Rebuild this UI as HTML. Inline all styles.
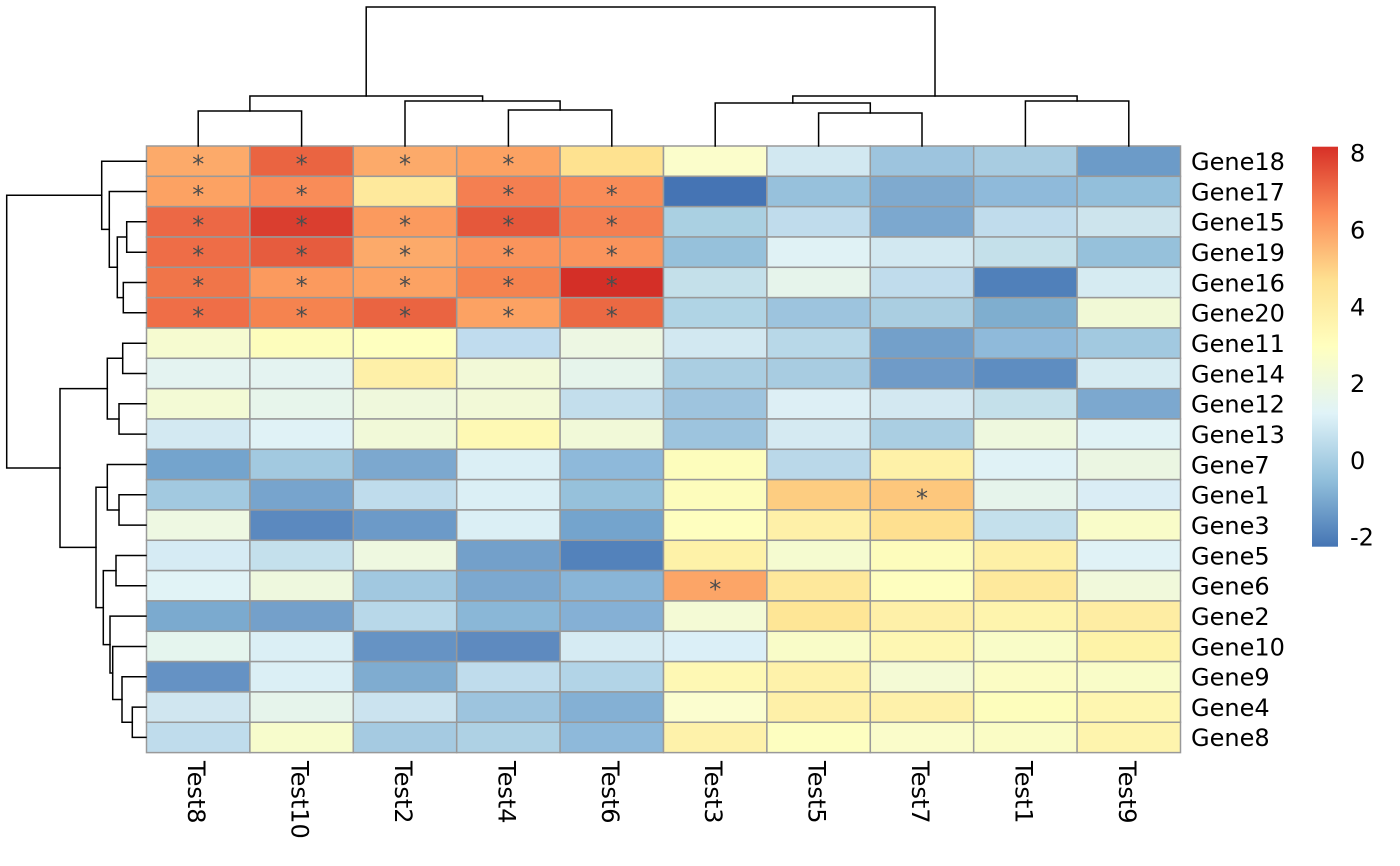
<!DOCTYPE html>
<html><head><meta charset="utf-8"><style>
html,body{margin:0;padding:0;background:#fff;}
svg{display:block;}
text{font-family:"DejaVu Sans","Liberation Sans",sans-serif;}
</style></head><body>
<svg width="1400" height="866" viewBox="0 0 1400 866" xmlns="http://www.w3.org/2000/svg">
<defs>
<linearGradient id="lg" x1="0" y1="1" x2="0" y2="0">
<stop offset="0" stop-color="#4575B4"/>
<stop offset="0.1667" stop-color="#91BFDB"/>
<stop offset="0.3333" stop-color="#E0F3F8"/>
<stop offset="0.5" stop-color="#FFFFBF"/>
<stop offset="0.6667" stop-color="#FEE090"/>
<stop offset="0.8333" stop-color="#FC8D59"/>
<stop offset="1" stop-color="#D73027"/>
</linearGradient>
</defs>
<g stroke="#999999" stroke-width="1.5">
<g transform="translate(0,146)">
<rect x="146.5" y="0" width="103.4" height="30.33" fill="#FCAA6A"/><rect x="249.9" y="0" width="103.4" height="30.33" fill="#EA6441"/><rect x="353.3" y="0" width="103.4" height="30.33" fill="#FCAA6A"/><rect x="456.7" y="0" width="103.4" height="30.33" fill="#FCA263"/><rect x="560.1" y="0" width="103.4" height="30.33" fill="#FEE290"/><rect x="663.5" y="0" width="103.4" height="30.33" fill="#FBFDCB"/><rect x="766.9" y="0" width="103.4" height="30.33" fill="#D2E8F1"/><rect x="870.3" y="0" width="103.4" height="30.33" fill="#9DC4DE"/><rect x="973.7" y="0" width="103.4" height="30.33" fill="#A8CCE1"/><rect x="1077.1" y="0" width="103.4" height="30.33" fill="#6C9BC8"/>
</g>
<g transform="translate(0,176.33)">
<rect x="146.5" y="0" width="103.4" height="30.33" fill="#FCA263"/><rect x="249.9" y="0" width="103.4" height="30.33" fill="#F98C58"/><rect x="353.3" y="0" width="103.4" height="30.33" fill="#FEE99C"/><rect x="456.7" y="0" width="103.4" height="30.33" fill="#F47F51"/><rect x="560.1" y="0" width="103.4" height="30.33" fill="#F98C58"/><rect x="663.5" y="0" width="103.4" height="30.33" fill="#4574B4"/><rect x="766.9" y="0" width="103.4" height="30.33" fill="#97C1DC"/><rect x="870.3" y="0" width="103.4" height="30.33" fill="#7FAACF"/><rect x="973.7" y="0" width="103.4" height="30.33" fill="#8FBADA"/><rect x="1077.1" y="0" width="103.4" height="30.33" fill="#93BFDB"/>
</g>
<g transform="translate(0,206.66)">
<rect x="146.5" y="0" width="103.4" height="30.33" fill="#EC6845"/><rect x="249.9" y="0" width="103.4" height="30.33" fill="#DA3E2F"/><rect x="353.3" y="0" width="103.4" height="30.33" fill="#FB9A5E"/><rect x="456.7" y="0" width="103.4" height="30.33" fill="#E5583B"/><rect x="560.1" y="0" width="103.4" height="30.33" fill="#F47F51"/><rect x="663.5" y="0" width="103.4" height="30.33" fill="#AAD0E2"/><rect x="766.9" y="0" width="103.4" height="30.33" fill="#C0DCEC"/><rect x="870.3" y="0" width="103.4" height="30.33" fill="#7CA8CF"/><rect x="973.7" y="0" width="103.4" height="30.33" fill="#C0DCEC"/><rect x="1077.1" y="0" width="103.4" height="30.33" fill="#CDE4ED"/>
</g>
<g transform="translate(0,237)">
<rect x="146.5" y="0" width="103.4" height="30.33" fill="#EE6D47"/><rect x="249.9" y="0" width="103.4" height="30.33" fill="#E65C3E"/><rect x="353.3" y="0" width="103.4" height="30.33" fill="#FCAA6A"/><rect x="456.7" y="0" width="103.4" height="30.33" fill="#FA945C"/><rect x="560.1" y="0" width="103.4" height="30.33" fill="#FA945C"/><rect x="663.5" y="0" width="103.4" height="30.33" fill="#96C1DB"/><rect x="766.9" y="0" width="103.4" height="30.33" fill="#E0F2F5"/><rect x="870.3" y="0" width="103.4" height="30.33" fill="#D2E8F1"/><rect x="973.7" y="0" width="103.4" height="30.33" fill="#C4E0EA"/><rect x="1077.1" y="0" width="103.4" height="30.33" fill="#96C1DB"/>
</g>
<g transform="translate(0,267.32)">
<rect x="146.5" y="0" width="103.4" height="30.33" fill="#F07549"/><rect x="249.9" y="0" width="103.4" height="30.33" fill="#FB9A5E"/><rect x="353.3" y="0" width="103.4" height="30.33" fill="#FCA263"/><rect x="456.7" y="0" width="103.4" height="30.33" fill="#F5834F"/><rect x="560.1" y="0" width="103.4" height="30.33" fill="#D42F27"/><rect x="663.5" y="0" width="103.4" height="30.33" fill="#C4E0EA"/><rect x="766.9" y="0" width="103.4" height="30.33" fill="#E6F4EB"/><rect x="870.3" y="0" width="103.4" height="30.33" fill="#C0DCEC"/><rect x="973.7" y="0" width="103.4" height="30.33" fill="#5080BA"/><rect x="1077.1" y="0" width="103.4" height="30.33" fill="#D6EBF2"/>
</g>
<g transform="translate(0,297.65)">
<rect x="146.5" y="0" width="103.4" height="30.33" fill="#EF6E47"/><rect x="249.9" y="0" width="103.4" height="30.33" fill="#F5834F"/><rect x="353.3" y="0" width="103.4" height="30.33" fill="#EA6441"/><rect x="456.7" y="0" width="103.4" height="30.33" fill="#FCA263"/><rect x="560.1" y="0" width="103.4" height="30.33" fill="#EB6943"/><rect x="663.5" y="0" width="103.4" height="30.33" fill="#B0D4E5"/><rect x="766.9" y="0" width="103.4" height="30.33" fill="#9DC4DE"/><rect x="870.3" y="0" width="103.4" height="30.33" fill="#AACEE1"/><rect x="973.7" y="0" width="103.4" height="30.33" fill="#7FAECF"/><rect x="1077.1" y="0" width="103.4" height="30.33" fill="#F1F9D6"/>
</g>
<g transform="translate(0,327.98)">
<rect x="146.5" y="0" width="103.4" height="30.33" fill="#F6FBD0"/><rect x="249.9" y="0" width="103.4" height="30.33" fill="#FDFDBC"/><rect x="353.3" y="0" width="103.4" height="30.33" fill="#FEFFBF"/><rect x="456.7" y="0" width="103.4" height="30.33" fill="#C0DCEE"/><rect x="560.1" y="0" width="103.4" height="30.33" fill="#EDF7E3"/><rect x="663.5" y="0" width="103.4" height="30.33" fill="#D2E8F1"/><rect x="766.9" y="0" width="103.4" height="30.33" fill="#B8D8E8"/><rect x="870.3" y="0" width="103.4" height="30.33" fill="#73A0CA"/><rect x="973.7" y="0" width="103.4" height="30.33" fill="#8FBADA"/><rect x="1077.1" y="0" width="103.4" height="30.33" fill="#A2C9E0"/>
</g>
<g transform="translate(0,358.31)">
<rect x="146.5" y="0" width="103.4" height="30.33" fill="#E4F3F1"/><rect x="249.9" y="0" width="103.4" height="30.33" fill="#E4F3F1"/><rect x="353.3" y="0" width="103.4" height="30.33" fill="#FEF0A8"/><rect x="456.7" y="0" width="103.4" height="30.33" fill="#F2F9D7"/><rect x="560.1" y="0" width="103.4" height="30.33" fill="#E6F4EB"/><rect x="663.5" y="0" width="103.4" height="30.33" fill="#AACEE2"/><rect x="766.9" y="0" width="103.4" height="30.33" fill="#A8CCE1"/><rect x="870.3" y="0" width="103.4" height="30.33" fill="#6F9BC8"/><rect x="973.7" y="0" width="103.4" height="30.33" fill="#5E8DC1"/><rect x="1077.1" y="0" width="103.4" height="30.33" fill="#D6EBF2"/>
</g>
<g transform="translate(0,388.64)">
<rect x="146.5" y="0" width="103.4" height="30.33" fill="#F3FAD5"/><rect x="249.9" y="0" width="103.4" height="30.33" fill="#E7F5EB"/><rect x="353.3" y="0" width="103.4" height="30.33" fill="#EFF8DC"/><rect x="456.7" y="0" width="103.4" height="30.33" fill="#F2F9D7"/><rect x="560.1" y="0" width="103.4" height="30.33" fill="#C3DEEC"/><rect x="663.5" y="0" width="103.4" height="30.33" fill="#9EC4DE"/><rect x="766.9" y="0" width="103.4" height="30.33" fill="#DDEFF5"/><rect x="870.3" y="0" width="103.4" height="30.33" fill="#D3E8F1"/><rect x="973.7" y="0" width="103.4" height="30.33" fill="#C4E0EA"/><rect x="1077.1" y="0" width="103.4" height="30.33" fill="#7CA8CF"/>
</g>
<g transform="translate(0,418.97)">
<rect x="146.5" y="0" width="103.4" height="30.33" fill="#D3E9F2"/><rect x="249.9" y="0" width="103.4" height="30.33" fill="#E0F2F6"/><rect x="353.3" y="0" width="103.4" height="30.33" fill="#F1F9D8"/><rect x="456.7" y="0" width="103.4" height="30.33" fill="#FEF9B4"/><rect x="560.1" y="0" width="103.4" height="30.33" fill="#F1F9D8"/><rect x="663.5" y="0" width="103.4" height="30.33" fill="#9DC4DE"/><rect x="766.9" y="0" width="103.4" height="30.33" fill="#D5EAF2"/><rect x="870.3" y="0" width="103.4" height="30.33" fill="#AACEE2"/><rect x="973.7" y="0" width="103.4" height="30.33" fill="#EEF8DE"/><rect x="1077.1" y="0" width="103.4" height="30.33" fill="#E0F2F5"/>
</g>
<g transform="translate(0,449.3)">
<rect x="146.5" y="0" width="103.4" height="30.33" fill="#74A4CD"/><rect x="249.9" y="0" width="103.4" height="30.33" fill="#A2C9E0"/><rect x="353.3" y="0" width="103.4" height="30.33" fill="#7CA8CF"/><rect x="456.7" y="0" width="103.4" height="30.33" fill="#DBEFF5"/><rect x="560.1" y="0" width="103.4" height="30.33" fill="#8EB9DA"/><rect x="663.5" y="0" width="103.4" height="30.33" fill="#FDFDBC"/><rect x="766.9" y="0" width="103.4" height="30.33" fill="#BAD8E9"/><rect x="870.3" y="0" width="103.4" height="30.33" fill="#FEF1A8"/><rect x="973.7" y="0" width="103.4" height="30.33" fill="#E0F2F6"/><rect x="1077.1" y="0" width="103.4" height="30.33" fill="#EBF6E2"/>
</g>
<g transform="translate(0,479.63)">
<rect x="146.5" y="0" width="103.4" height="30.33" fill="#A2C9E0"/><rect x="249.9" y="0" width="103.4" height="30.33" fill="#77A4CD"/><rect x="353.3" y="0" width="103.4" height="30.33" fill="#BFDCEC"/><rect x="456.7" y="0" width="103.4" height="30.33" fill="#DBEFF5"/><rect x="560.1" y="0" width="103.4" height="30.33" fill="#96C1DB"/><rect x="663.5" y="0" width="103.4" height="30.33" fill="#FDFCBC"/><rect x="766.9" y="0" width="103.4" height="30.33" fill="#FDCD81"/><rect x="870.3" y="0" width="103.4" height="30.33" fill="#FDC77C"/><rect x="973.7" y="0" width="103.4" height="30.33" fill="#E6F4EB"/><rect x="1077.1" y="0" width="103.4" height="30.33" fill="#DAEDF5"/>
</g>
<g transform="translate(0,509.96)">
<rect x="146.5" y="0" width="103.4" height="30.33" fill="#EEF8E2"/><rect x="249.9" y="0" width="103.4" height="30.33" fill="#5B89BF"/><rect x="353.3" y="0" width="103.4" height="30.33" fill="#6C9AC8"/><rect x="456.7" y="0" width="103.4" height="30.33" fill="#DBEFF5"/><rect x="560.1" y="0" width="103.4" height="30.33" fill="#74A4CD"/><rect x="663.5" y="0" width="103.4" height="30.33" fill="#FEFEBF"/><rect x="766.9" y="0" width="103.4" height="30.33" fill="#FEF0A8"/><rect x="870.3" y="0" width="103.4" height="30.33" fill="#FEE090"/><rect x="973.7" y="0" width="103.4" height="30.33" fill="#C4E0EC"/><rect x="1077.1" y="0" width="103.4" height="30.33" fill="#F9FCC9"/>
</g>
<g transform="translate(0,540.29)">
<rect x="146.5" y="0" width="103.4" height="30.33" fill="#D6EBF4"/><rect x="249.9" y="0" width="103.4" height="30.33" fill="#C4E0EC"/><rect x="353.3" y="0" width="103.4" height="30.33" fill="#EEF8E0"/><rect x="456.7" y="0" width="103.4" height="30.33" fill="#73A0CA"/><rect x="560.1" y="0" width="103.4" height="30.33" fill="#5382BB"/><rect x="663.5" y="0" width="103.4" height="30.33" fill="#FEF2A8"/><rect x="766.9" y="0" width="103.4" height="30.33" fill="#F5FBD0"/><rect x="870.3" y="0" width="103.4" height="30.33" fill="#FDFCBC"/><rect x="973.7" y="0" width="103.4" height="30.33" fill="#FEF0A6"/><rect x="1077.1" y="0" width="103.4" height="30.33" fill="#E0F2F6"/>
</g>
<g transform="translate(0,570.62)">
<rect x="146.5" y="0" width="103.4" height="30.33" fill="#E1F3F6"/><rect x="249.9" y="0" width="103.4" height="30.33" fill="#EEF8DE"/><rect x="353.3" y="0" width="103.4" height="30.33" fill="#A1C8E0"/><rect x="456.7" y="0" width="103.4" height="30.33" fill="#7CA8CF"/><rect x="560.1" y="0" width="103.4" height="30.33" fill="#89B5D7"/><rect x="663.5" y="0" width="103.4" height="30.33" fill="#FCA567"/><rect x="766.9" y="0" width="103.4" height="30.33" fill="#FEE89B"/><rect x="870.3" y="0" width="103.4" height="30.33" fill="#FEFEBF"/><rect x="973.7" y="0" width="103.4" height="30.33" fill="#FEE99C"/><rect x="1077.1" y="0" width="103.4" height="30.33" fill="#F1F9DB"/>
</g>
<g transform="translate(0,600.95)">
<rect x="146.5" y="0" width="103.4" height="30.33" fill="#7BAACF"/><rect x="249.9" y="0" width="103.4" height="30.33" fill="#74A0CA"/><rect x="353.3" y="0" width="103.4" height="30.33" fill="#B8D8E9"/><rect x="456.7" y="0" width="103.4" height="30.33" fill="#8AB7D7"/><rect x="560.1" y="0" width="103.4" height="30.33" fill="#85B0D5"/><rect x="663.5" y="0" width="103.4" height="30.33" fill="#F4FAD5"/><rect x="766.9" y="0" width="103.4" height="30.33" fill="#FEE696"/><rect x="870.3" y="0" width="103.4" height="30.33" fill="#FEF0A8"/><rect x="973.7" y="0" width="103.4" height="30.33" fill="#FEF4AD"/><rect x="1077.1" y="0" width="103.4" height="30.33" fill="#FEEDA3"/>
</g>
<g transform="translate(0,631.28)">
<rect x="146.5" y="0" width="103.4" height="30.33" fill="#E5F5EE"/><rect x="249.9" y="0" width="103.4" height="30.33" fill="#DBEFF5"/><rect x="353.3" y="0" width="103.4" height="30.33" fill="#6693C4"/><rect x="456.7" y="0" width="103.4" height="30.33" fill="#5E8ABF"/><rect x="560.1" y="0" width="103.4" height="30.33" fill="#D6EBF3"/><rect x="663.5" y="0" width="103.4" height="30.33" fill="#DBEFF7"/><rect x="766.9" y="0" width="103.4" height="30.33" fill="#F9FCC8"/><rect x="870.3" y="0" width="103.4" height="30.33" fill="#FEF7B3"/><rect x="973.7" y="0" width="103.4" height="30.33" fill="#F9FCC8"/><rect x="1077.1" y="0" width="103.4" height="30.33" fill="#FEF3A8"/>
</g>
<g transform="translate(0,661.61)">
<rect x="146.5" y="0" width="103.4" height="30.33" fill="#6592C4"/><rect x="249.9" y="0" width="103.4" height="30.33" fill="#DBEFF5"/><rect x="353.3" y="0" width="103.4" height="30.33" fill="#7FACD0"/><rect x="456.7" y="0" width="103.4" height="30.33" fill="#BFDCEC"/><rect x="560.1" y="0" width="103.4" height="30.33" fill="#B2D4E7"/><rect x="663.5" y="0" width="103.4" height="30.33" fill="#FEF8B4"/><rect x="766.9" y="0" width="103.4" height="30.33" fill="#FEF2AA"/><rect x="870.3" y="0" width="103.4" height="30.33" fill="#F4FAD5"/><rect x="973.7" y="0" width="103.4" height="30.33" fill="#FBFCC4"/><rect x="1077.1" y="0" width="103.4" height="30.33" fill="#F9FCC8"/>
</g>
<g transform="translate(0,691.94)">
<rect x="146.5" y="0" width="103.4" height="30.33" fill="#D0E6F0"/><rect x="249.9" y="0" width="103.4" height="30.33" fill="#E6F4EB"/><rect x="353.3" y="0" width="103.4" height="30.33" fill="#CBE3EF"/><rect x="456.7" y="0" width="103.4" height="30.33" fill="#9DC4DE"/><rect x="560.1" y="0" width="103.4" height="30.33" fill="#84B0D4"/><rect x="663.5" y="0" width="103.4" height="30.33" fill="#FBFDCF"/><rect x="766.9" y="0" width="103.4" height="30.33" fill="#FEF0A8"/><rect x="870.3" y="0" width="103.4" height="30.33" fill="#FEF1AA"/><rect x="973.7" y="0" width="103.4" height="30.33" fill="#FDFDBC"/><rect x="1077.1" y="0" width="103.4" height="30.33" fill="#FEF6B0"/>
</g>
<g transform="translate(0,722.27)">
<rect x="146.5" y="0" width="103.4" height="30.33" fill="#BFDCEC"/><rect x="249.9" y="0" width="103.4" height="30.33" fill="#F7FCCC"/><rect x="353.3" y="0" width="103.4" height="30.33" fill="#A5CAE1"/><rect x="456.7" y="0" width="103.4" height="30.33" fill="#AED1E4"/><rect x="560.1" y="0" width="103.4" height="30.33" fill="#8EB9DA"/><rect x="663.5" y="0" width="103.4" height="30.33" fill="#FEF2AA"/><rect x="766.9" y="0" width="103.4" height="30.33" fill="#FDFEC0"/><rect x="870.3" y="0" width="103.4" height="30.33" fill="#FAFCCA"/><rect x="973.7" y="0" width="103.4" height="30.33" fill="#FAFCC5"/><rect x="1077.1" y="0" width="103.4" height="30.33" fill="#FEF4AD"/>
</g>
</g>
<g fill="#4D4D4D" font-size="24" text-anchor="middle">
<text x="198.2" y="172.7">*</text><text x="301.6" y="172.7">*</text><text x="405.0" y="172.7">*</text><text x="508.4" y="172.7">*</text>
<text x="198.2" y="203.0">*</text><text x="301.6" y="203.0">*</text><text x="508.4" y="203.0">*</text><text x="611.8" y="203.0">*</text>
<text x="198.2" y="233.3">*</text><text x="301.6" y="233.3">*</text><text x="405.0" y="233.3">*</text><text x="508.4" y="233.3">*</text><text x="611.8" y="233.3">*</text>
<text x="198.2" y="263.7">*</text><text x="301.6" y="263.7">*</text><text x="405.0" y="263.7">*</text><text x="508.4" y="263.7">*</text><text x="611.8" y="263.7">*</text>
<text x="198.2" y="294.0">*</text><text x="301.6" y="294.0">*</text><text x="405.0" y="294.0">*</text><text x="508.4" y="294.0">*</text><text x="611.8" y="294.0">*</text>
<text x="198.2" y="324.3">*</text><text x="301.6" y="324.3">*</text><text x="405.0" y="324.3">*</text><text x="508.4" y="324.3">*</text><text x="611.8" y="324.3">*</text>
<text x="922.0" y="506.3">*</text>
<text x="715.2" y="597.3">*</text>
</g>
<g fill="none" stroke="#000" stroke-width="1.5" stroke-linecap="square">
<!-- column dendrogram -->
<path d="M366.2,96 V7 H935.0 V96"/>
<path d="M249.9,111 V96 H482.6 V101"/>
<path d="M198.2,146 V111 H301.6 V146"/>
<path d="M405.0,146 V101 H560.1 V110"/>
<path d="M508.4,146 V110 H611.8 V146"/>
<path d="M792.8,103 V96 H1077.1 V101"/>
<path d="M715.2,146 V103 H870.3 V113"/>
<path d="M818.6,146 V113 H922.0 V146"/>
<path d="M1025.4,146 V101 H1128.8 V146"/>
<!-- row dendrogram -->
<path d="M101.7,195.3 H6.7 V468.0 H60"/>
<path d="M146,161.2 H101.7 V229.4 H109.3"/>
<path d="M146,191.5 H109.3 V267.3 H117.3"/>
<path d="M126.7,237.0 H117.3 V297.6 H123.3"/>
<path d="M146,221.8 H126.7 V252.2 H146"/>
<path d="M146,282.5 H123.3 V312.8 H146"/>
<path d="M107.3,388.6 H60 V547.4 H96"/>
<path d="M122.7,358.3 H107.3 V419.0 H119"/>
<path d="M146,343.2 H122.7 V373.5 H146"/>
<path d="M146,403.8 H119 V434.1 H146"/>
<path d="M107.3,487.2 H96 V607.6 H103.3"/>
<path d="M146,464.5 H107.3 V510.0 H119"/>
<path d="M146,494.8 H119 V525.1 H146"/>
<path d="M116,570.6 H103.3 V644.6 H110"/>
<path d="M146,555.5 H116 V585.8 H146"/>
<path d="M146,616.1 H110 V673.0 H112.7"/>
<path d="M146,646.5 H112.7 V699.5 H122"/>
<path d="M146,676.8 H122 V722.3 H132.3"/>
<path d="M146,707.1 H132.3 V737.4 H146"/>
</g>
<g fill="#000" font-size="24">
<text x="1191" y="170.0">Gene18</text>
<text x="1191" y="200.3">Gene17</text>
<text x="1191" y="230.6">Gene15</text>
<text x="1191" y="261.0">Gene19</text>
<text x="1191" y="291.3">Gene16</text>
<text x="1191" y="321.6">Gene20</text>
<text x="1191" y="352.0">Gene11</text>
<text x="1191" y="382.3">Gene14</text>
<text x="1191" y="412.6">Gene12</text>
<text x="1191" y="442.9">Gene13</text>
<text x="1191" y="473.3">Gene7</text>
<text x="1191" y="503.6">Gene1</text>
<text x="1191" y="533.9">Gene3</text>
<text x="1191" y="564.3">Gene5</text>
<text x="1191" y="594.6">Gene6</text>
<text x="1191" y="624.9">Gene2</text>
<text x="1191" y="655.3">Gene10</text>
<text x="1191" y="685.6">Gene9</text>
<text x="1191" y="715.9">Gene4</text>
<text x="1191" y="746.2">Gene8</text>
</g>
<g fill="#000" font-size="24">
<text transform="translate(188.2,761) rotate(90)">Test8</text>
<text transform="translate(291.6,761) rotate(90)">Test10</text>
<text transform="translate(395.0,761) rotate(90)">Test2</text>
<text transform="translate(498.4,761) rotate(90)">Test4</text>
<text transform="translate(601.8,761) rotate(90)">Test6</text>
<text transform="translate(705.2,761) rotate(90)">Test3</text>
<text transform="translate(808.6,761) rotate(90)">Test5</text>
<text transform="translate(912.0,761) rotate(90)">Test7</text>
<text transform="translate(1015.4,761) rotate(90)">Test1</text>
<text transform="translate(1118.8,761) rotate(90)">Test9</text>
</g>
<rect x="1312" y="146.7" width="26" height="400" fill="url(#lg)"/>
<g fill="#000" font-size="24">
<text x="1350" y="161.7">8</text>
<text x="1350" y="238.5">6</text>
<text x="1350" y="315.3">4</text>
<text x="1350" y="392.1">2</text>
<text x="1350" y="468.9">0</text>
<text x="1350" y="545.7">-2</text>
</g>
</svg>
</body></html>
